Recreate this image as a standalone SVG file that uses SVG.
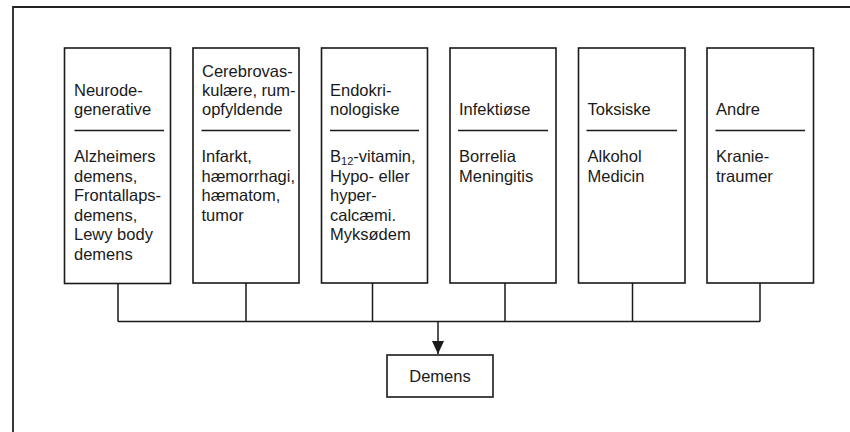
<svg xmlns="http://www.w3.org/2000/svg" width="850" height="432" viewBox="0 0 850 432">
<style>
.frame{fill:none;stroke:#222;stroke-width:1.8}
.box{fill:#fff;stroke:#1a1a1a;stroke-width:1.6}
.sep{stroke:#1a1a1a;stroke-width:1.5}
.conn{fill:none;stroke:#1a1a1a;stroke-width:1.5}
text{font-family:"Liberation Sans",Arial,sans-serif;font-size:16.5px;fill:#1a1a1a}
.sub{font-size:11px}
</style>
<defs>
<marker id="arr" markerWidth="13" markerHeight="12" refX="13" refY="6" orient="auto" markerUnits="userSpaceOnUse">
<path d="M0,0 L13,6 L0,12 Z" fill="#1a1a1a"/>
</marker>
</defs>
<rect width="850" height="432" fill="#fff"/>
<path class="frame" d="M13,432 V7 H850"/>

<g id="connectors">
<path class="conn" d="M118,283 V321.5 M246,283 V321.5 M372.5,283 V321.5 M505,283 V321.5 M632.5,283 V321.5 M760,283 V321.5 M118,321.5 H760"/>
<path class="conn" d="M438,321.5 V354" marker-end="url(#arr)"/>
</g>

<g id="n1">
<rect class="box" x="64.5" y="48" width="106" height="235.5"/>
<text x="74" y="96">Neurode-<tspan x="74" dy="19">generative</tspan></text>
<line class="sep" x1="74.5" y1="130.5" x2="164" y2="130.5"/>
<text x="74" y="162">Alzheimers<tspan x="74" dy="19.5">demens,</tspan><tspan x="74" dy="19.5">Frontallaps-</tspan><tspan x="74" dy="19.5">demens,</tspan><tspan x="74" dy="19.5">Lewy body</tspan><tspan x="74" dy="19.5">demens</tspan></text>
</g>

<g id="n2">
<rect class="box" x="193" y="48" width="106" height="235"/>
<text x="202" y="77">Cerebrovas-<tspan x="202" dy="19">kulære, rum-</tspan><tspan x="202" dy="19">opfyldende</tspan></text>
<line class="sep" x1="201.5" y1="130.5" x2="290.5" y2="130.5"/>
<text x="201.5" y="162">Infarkt,<tspan x="201.5" dy="19.5">hæmorrhagi,</tspan><tspan x="201.5" dy="19.5">hæmatom,</tspan><tspan x="201.5" dy="19.5">tumor</tspan></text>
</g>

<g id="n3">
<rect class="box" x="321.5" y="48" width="106" height="235"/>
<text x="330" y="96">Endokri-<tspan x="330" dy="19">nologiske</tspan></text>
<line class="sep" x1="330" y1="130.5" x2="419" y2="130.5"/>
<text x="330" y="162">B<tspan class="sub" dy="3">12</tspan><tspan dy="-3">-vitamin,</tspan><tspan x="330" dy="19.5">Hypo- eller</tspan><tspan x="330" dy="19.5">hyper-</tspan><tspan x="330" dy="19.5">calcæmi.</tspan><tspan x="330" dy="19.5">Myksødem</tspan></text>
</g>

<g id="n4">
<rect class="box" x="450" y="48" width="106" height="235"/>
<text x="459" y="115">Infektiøse</text>
<line class="sep" x1="458" y1="130.5" x2="548" y2="130.5"/>
<text x="459" y="162">Borrelia<tspan x="459" dy="19.5">Meningitis</tspan></text>
</g>

<g id="n5">
<rect class="box" x="578.5" y="48" width="106.5" height="235"/>
<text x="587.5" y="115">Toksiske</text>
<line class="sep" x1="586.5" y1="130.5" x2="677" y2="130.5"/>
<text x="587.5" y="162">Alkohol<tspan x="587.5" dy="19.5">Medicin</tspan></text>
</g>

<g id="n6">
<rect class="box" x="707" y="48" width="106.5" height="235"/>
<text x="716" y="115">Andre</text>
<line class="sep" x1="715.5" y1="130.5" x2="805" y2="130.5"/>
<text x="716" y="162">Kranie-<tspan x="716" dy="19.5">traumer</tspan></text>
</g>

<g id="demens">
<rect class="box" x="387" y="355" width="106" height="42"/>
<text x="440" y="381.5" text-anchor="middle">Demens</text>
</g>
</svg>
